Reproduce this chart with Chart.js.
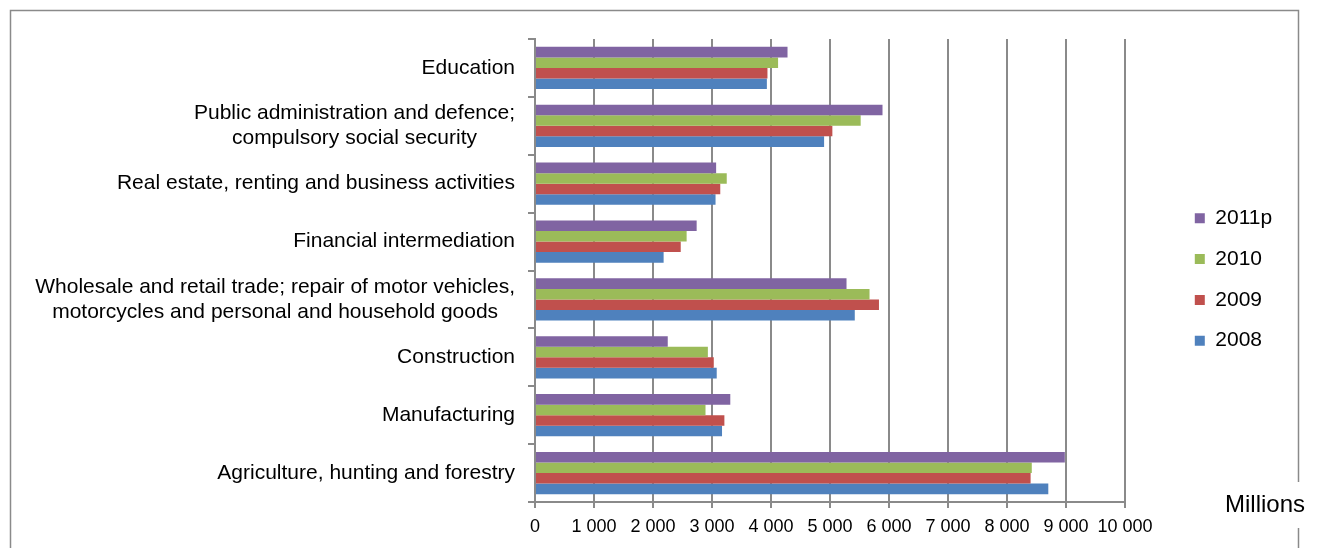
<!DOCTYPE html>
<html>
<head>
<meta charset="utf-8">
<script src="https://cdn.jsdelivr.net/npm/chart.js@4.4.1/dist/chart.umd.min.js"></script>
<style>
  body { margin: 0; background: #fff; }
  #wrap { width: 1317px; height: 548px; }
</style>
</head>
<body>
<div id="wrap"><canvas id="canvas" width="1317" height="548"></canvas></div>
<script>
var categories = [
  "Education",
  ["Public administration and defence;", "compulsory social security"],
  "Real estate, renting and business activities",
  "Financial intermediation",
  ["Wholesale and retail trade; repair of motor vehicles,", "motorcycles and personal and household goods"],
  "Construction",
  "Manufacturing",
  "Agriculture, hunting and forestry"
];
var years = ["2011p", "2010", "2009", "2008"];
var v2011p = [4280, 5890, 3070, 2740, 5280, 2250, 3310, 8980];
var v2010  = [4120, 5520, 3250, 2570, 5670, 2930, 2890, 8420];
var v2009  = [3940, 5040, 3140, 2470, 5830, 3030, 3210, 8400];
var v2008  = [3930, 4900, 3060, 2180, 5420, 3080, 3170, 8700];
var xTicks = [0, 1000, 2000, 3000, 4000, 5000, 6000, 7000, 8000, 9000, 10000];
var unitLabel = "Millions";

var colors = ["#8064A2", "#9BBB59", "#C0504D", "#4F81BD"];
var series = [v2011p, v2010, v2009, v2008];
var gray = "#8a8a8a";
var fam = "'Liberation Sans', Arial, sans-serif";

function spaced(v) {
  return String(v).replace(/\B(?=(\d{3})+(?!\d))/g, " ");
}

var datasets = years.map(function(y, i) {
  return {
    label: y,
    data: series[i],
    backgroundColor: colors[i],
    borderWidth: 0,
    categoryPercentage: 0.73,
    barPercentage: 1
  };
});

// frame, category labels (centred lines, like excel), unit label, legend placement
var extras = {
  id: "extras",
  afterLayout: function(chart) {
    var lg = chart.legend;
    lg.left = 1175;
    lg.right = lg.left + lg.width;
    lg.top = 188;
    lg.bottom = 540;
  },
  beforeDraw: function(chart) {
    var ctx = chart.ctx;
    ctx.save();
    ctx.strokeStyle = gray;
    ctx.lineWidth = 1.5;
    ctx.strokeRect(10.5, 10.5, 1288, 600);
    ctx.restore();
  },
  afterDraw: function(chart) {
    var ctx = chart.ctx;
    var ys = chart.scales.y;
    var right = 515, lh = 25;
    ctx.save();
    ctx.fillStyle = "#000";
    ctx.font = "21px " + fam;
    ctx.textBaseline = "middle";
    categories.forEach(function(lab, i) {
      var y = ys.getPixelForTick(i);
      var lines = Array.isArray(lab) ? lab : [lab];
      var maxW = 0;
      lines.forEach(function(t) { maxW = Math.max(maxW, ctx.measureText(t).width); });
      var cx = right - maxW / 2;
      var y0 = y - (lines.length - 1) * lh / 2;
      ctx.textAlign = "center";
      lines.forEach(function(t, k) { ctx.fillText(t, cx, y0 + k * lh); });
    });

    ctx.font = "24px " + fam;
    var w = ctx.measureText(unitLabel).width;
    ctx.fillStyle = "#fff";
    ctx.fillRect(1265 - w / 2 - 4, 482, w + 8, 46);
    ctx.fillStyle = "#000";
    ctx.textAlign = "center";
    ctx.fillText(unitLabel, 1265, 505);
    ctx.restore();
  }
};

new Chart(document.getElementById("canvas").getContext("2d"), {
  type: "bar",
  data: { labels: categories, datasets: datasets },
  plugins: [extras],
  options: {
    indexAxis: "y",
    responsive: false,
    animation: false,
    layout: { padding: { left: 0, top: 39, right: 192, bottom: 0 } },
    plugins: {
      tooltip: { enabled: false },
      legend: {
        position: "chartArea",
        align: "start",
        labels: {
          boxWidth: 10,
          boxHeight: 10,
          padding: 19.8,
          color: "#000",
          font: { family: fam, size: 21 }
        }
      }
    },
    scales: {
      x: {
        min: 0,
        max: 10000,
        afterBuildTicks: function(s) {
          s.ticks = xTicks.map(function(v) { return { value: v }; });
        },
        afterFit: function(s) { s.height = 46; },
        grid: { color: gray, lineWidth: 2, tickLength: 6 },
        border: { color: gray, width: 2 },
        ticks: {
          color: "#000",
          padding: 8,
          maxRotation: 0,
          font: { family: fam, size: 18 },
          callback: function(v) { return spaced(v); }
        }
      },
      y: {
        afterFit: function(s) { s.width = 535; },
        grid: { drawOnChartArea: false, color: gray, lineWidth: 2, tickLength: 7, offset: true },
        border: { color: gray, width: 2 },
        ticks: { display: false }
      }
    }
  }
});
</script>
</body>
</html>
